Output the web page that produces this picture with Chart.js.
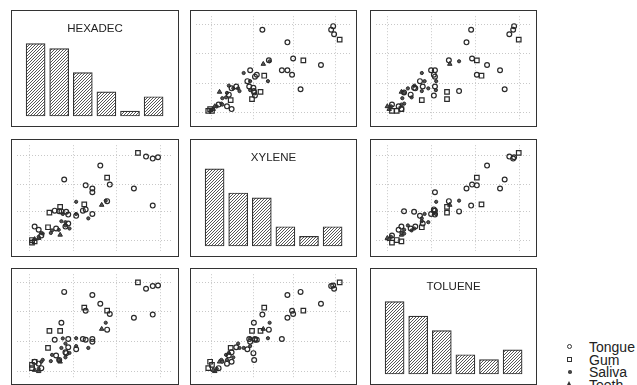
<!DOCTYPE html>
<html>
<head>
<meta charset="utf-8">
<script src="https://cdn.jsdelivr.net/npm/chart.js@4.4.0/dist/chart.umd.min.js"></script>
<style>
  body { margin: 0; background: #fff; width: 637px; height: 385px; overflow: hidden; position: relative;
         font-family: "Liberation Sans", Arial, sans-serif; }
  .panel { position: absolute; border: 1px solid #333; box-sizing: border-box; }
  .panel canvas { display: block; }
  .legend { position: absolute; left: 562px; top: 341px; font-size: 14px; color: #222; }
  .legend .row { position: relative; height: 12.6px; line-height: 12.6px; padding-left: 27px; }
  .legend .mk { position: absolute; box-sizing: border-box; }
  .mk.Tongue { left: 5px; top: 3px; width: 5px; height: 5px; border: 1.2px solid #333; border-radius: 50%; }
  .mk.Gum { left: 5px; top: 3px; width: 5px; height: 5px; border: 1.2px solid #333; }
  .mk.Saliva { left: 6px; top: 4px; width: 3.5px; height: 3.5px; background: #444; border-radius: 50%; }
  .mk.Teeth { left: 5px; top: 2px; width: 0; height: 0; border-left: 2.6px solid transparent;
              border-right: 2.6px solid transparent; border-bottom: 4.5px solid #333; }
</style>
</head>
<body>
<div class="legend" id="legend"></div>
<script>
// variables on the diagonal
const varNames = ['HEXADEC', 'XYLENE', 'TOLUENE'];

// histogram bar heights (counts) for each variable, 6 bins
const hexCounts = [15, 14, 9, 5, 1, 4];
const xylCounts = [16, 11, 10, 4, 2, 4];
const tolCounts = [15, 12, 9, 4, 3, 5];
const binIndex = [1, 2, 3, 4, 5, 6];

// grid line positions (values on a 0-100 scale)
const hexTicks = [8, 36, 64, 92];
const xylTicks = [10, 37, 63, 90];
const tolTicks = [7, 35.5, 64, 92.5];

const groupNames = ['Tongue', 'Gum', 'Saliva', 'Teeth'];

// one entry per sample
const sampleGroup = [
  'Tongue', 'Tongue', 'Tongue', 'Gum', 'Teeth', 'Tongue', 'Tongue', 'Tongue', 'Tongue', 'Tongue',
  'Saliva', 'Tongue', 'Tongue', 'Gum', 'Saliva', 'Tongue', 'Saliva', 'Tongue', 'Tongue', 'Saliva',
  'Tongue', 'Gum', 'Gum', 'Tongue', 'Saliva', 'Tongue', 'Tongue', 'Saliva', 'Teeth', 'Saliva',
  'Tongue', 'Saliva', 'Saliva', 'Gum', 'Saliva', 'Tongue', 'Saliva', 'Teeth', 'Saliva', 'Tongue',
  'Tongue', 'Gum', 'Gum', 'Tongue', 'Tongue', 'Tongue', 'Gum', 'Tongue', 'Saliva', 'Saliva',
  'Saliva', 'Gum', 'Teeth', 'Tongue', 'Tongue'
];
const hexadec = [
  87.1, 75.0, 59.5, 57.8, 54.3, 57.8, 48.3, 48.3, 44.0, 48.3,
  45.7, 44.0, 42.2, 43.1, 37.9, 37.9, 37.9, 30.2, 32.8, 29.3,
  28.4, 27.6, 20.7, 24.1, 33.6, 31.0, 32.8, 31.0, 27.6, 26.7,
  25.0, 22.4, 21.6, 19.8, 16.4, 15.5, 13.8, 13.8, 15.5, 13.8,
  11.2, 9.5, 9.5, 90.5, 87.1, 82.8, 77.6, 53.4, 56.9, 28.4,
  31.0, 11.2, 11.2, 27.0, 31.5
];
const xylene = [
  42.8, 59.0, 62.7, 69.3, 43.4, 47.0, 55.4, 59.0, 62.0, 34.9,
  30.7, 39.2, 38.0, 44.0, 46.4, 33.1, 34.9, 67.5, 34.3, 34.9,
  37.3, 41.6, 36.1, 38.0, 21.1, 22.9, 25.9, 27.1, 15.1, 19.9,
  21.1, 19.3, 16.9, 22.3, 16.3, 14.5, 13.3, 12.0, 16.9, 19.9,
  22.9, 7.8, 10.2, 88.6, 87.3, 89.2, 92.8, 80.7, 47.5, 28.0,
  24.0, 9.0, 11.0, 37.5, 37.0
];
const toluene = [
  61.4, 58.4, 62.0, 65.1, 47.6, 47.0, 38.0, 80.1, 65.1, 35.5,
  29.5, 37.3, 38.0, 68.1, 38.8, 28.3, 31.3, 83.1, 38.0, 38.6,
  53.6, 45.8, 45.8, 37.3, 24.7, 25.3, 30.1, 33.7, 16.3, 18.1,
  22.3, 22.9, 16.9, 29.5, 18.1, 10.2, 9.6, 7.2, 16.3, 14.5,
  16.3, 10.2, 13.3, 89.2, 88.6, 86.1, 92.2, 71.7, 53.6, 29.5,
  20.5, 16.3, 8.4, 18.0, 24.5
];

const values = [hexadec, xylene, toluene];
const counts = [hexCounts, xylCounts, tolCounts];
const ticks = [hexTicks, xylTicks, tolTicks];

const colLeft = [11, 190, 370];
const colWidth = [168, 167, 167];
const rowTop = [10, 139, 268];
const rowHeight = [117, 118, 117];

const markers = {
  Tongue: { pointStyle: 'circle', pointRadius: 2.4, pointBorderWidth: 1.2, pointBackgroundColor: 'rgba(0,0,0,0)' },
  Gum: { pointStyle: 'rect', pointRadius: 3.2, pointBorderWidth: 1.2, pointBackgroundColor: 'rgba(0,0,0,0)' },
  Saliva: { pointStyle: 'circle', pointRadius: 1.6, pointBorderWidth: 1, pointBackgroundColor: '#555' },
  Teeth: { pointStyle: 'triangle', pointRadius: 2.6, pointBorderWidth: 1, pointBackgroundColor: '#555' }
};

function hatchPattern(ctx) {
  const c = document.createElement('canvas');
  c.width = 3; c.height = 3;
  const h = c.getContext('2d');
  h.fillStyle = '#fff';
  h.fillRect(0, 0, 3, 3);
  h.strokeStyle = '#444';
  h.lineWidth = 0.9;
  h.beginPath();
  h.moveTo(0, 3); h.lineTo(3, 0);
  h.moveTo(-1, 1); h.lineTo(1, -1);
  h.moveTo(2, 4); h.lineTo(4, 2);
  h.stroke();
  return ctx.createPattern(c, 'repeat');
}

const panelTitle = {
  id: 'panelTitle',
  afterDraw(chart, args, opts) {
    if (!opts.text) return;
    const ctx = chart.ctx;
    ctx.save();
    ctx.font = '11.5px "Liberation Sans", Arial, sans-serif';
    ctx.fillStyle = '#222';
    ctx.textAlign = 'center';
    ctx.textBaseline = 'middle';
    ctx.fillText(opts.text, chart.width / 2, 18);
    ctx.restore();
  }
};

function makePanel(r, c) {
  const div = document.createElement('div');
  div.className = 'panel';
  div.style.left = colLeft[c] + 'px';
  div.style.top = rowTop[r] + 'px';
  div.style.width = colWidth[c] + 'px';
  div.style.height = rowHeight[r] + 'px';
  const canvas = document.createElement('canvas');
  canvas.width = colWidth[c] - 2;
  canvas.height = rowHeight[r] - 2;
  div.appendChild(canvas);
  document.body.appendChild(div);
  return canvas;
}

function histogramChart(canvas, k) {
  const ctx = canvas.getContext('2d');
  const unitPx = 4.82;      // pixels per count
  const baseGap = 10;       // gap below bar baseline
  new Chart(ctx, {
    type: 'bar',
    data: {
      datasets: [{
        data: binIndex.map((b, i) => ({ x: b, y: counts[k][i] })),
        backgroundColor: hatchPattern(ctx),
        borderColor: '#333',
        borderWidth: 1.2,
        borderSkipped: false,
        barThickness: 19
      }]
    },
    plugins: [panelTitle],
    options: {
      responsive: false,
      animation: false,
      layout: { padding: 0 },
      plugins: { legend: { display: false }, tooltip: { enabled: false }, panelTitle: { text: varNames[k] } },
      scales: {
        x: { type: 'linear', display: false, offset: false, min: 0, max: canvas.width / 23.6 },
        y: { display: false, min: -baseGap / unitPx, max: (canvas.height - baseGap) / unitPx }
      }
    }
  });
}

function gridAxis(tickVals) {
  return {
    type: 'linear',
    min: 0,
    max: 100,
    afterBuildTicks: axis => { axis.ticks = tickVals.map(v => ({ value: v })); },
    ticks: { display: false },
    grid: { color: '#c8c8c8', lineWidth: 1, drawTicks: false },
    border: { display: false, dash: [1, 2] }
  };
}

function scatterChart(canvas, xi, yi) {
  const datasets = groupNames.map(g => Object.assign({
    label: g,
    data: sampleGroup.map((s, i) => s === g ? { x: values[xi][i], y: values[yi][i] } : null).filter(p => p),
    pointBorderColor: '#2a2a2a',
    clip: false
  }, markers[g]));
  new Chart(canvas.getContext('2d'), {
    type: 'scatter',
    data: { datasets: datasets },
    options: {
      responsive: false,
      animation: false,
      layout: { padding: 0 },
      plugins: { legend: { display: false }, tooltip: { enabled: false } },
      scales: { x: gridAxis(ticks[xi]), y: gridAxis(ticks[yi]) }
    }
  });
}

for (let r = 0; r < 3; r++) {
  for (let c = 0; c < 3; c++) {
    const canvas = makePanel(r, c);
    if (r === c) histogramChart(canvas, r);
    else scatterChart(canvas, c, r);
  }
}

const legend = document.getElementById('legend');
groupNames.forEach(g => {
  const row = document.createElement('div');
  row.className = 'row';
  row.innerHTML = '<span class="mk ' + g + '"></span>' + g;
  legend.appendChild(row);
});
</script>
</body>
</html>
